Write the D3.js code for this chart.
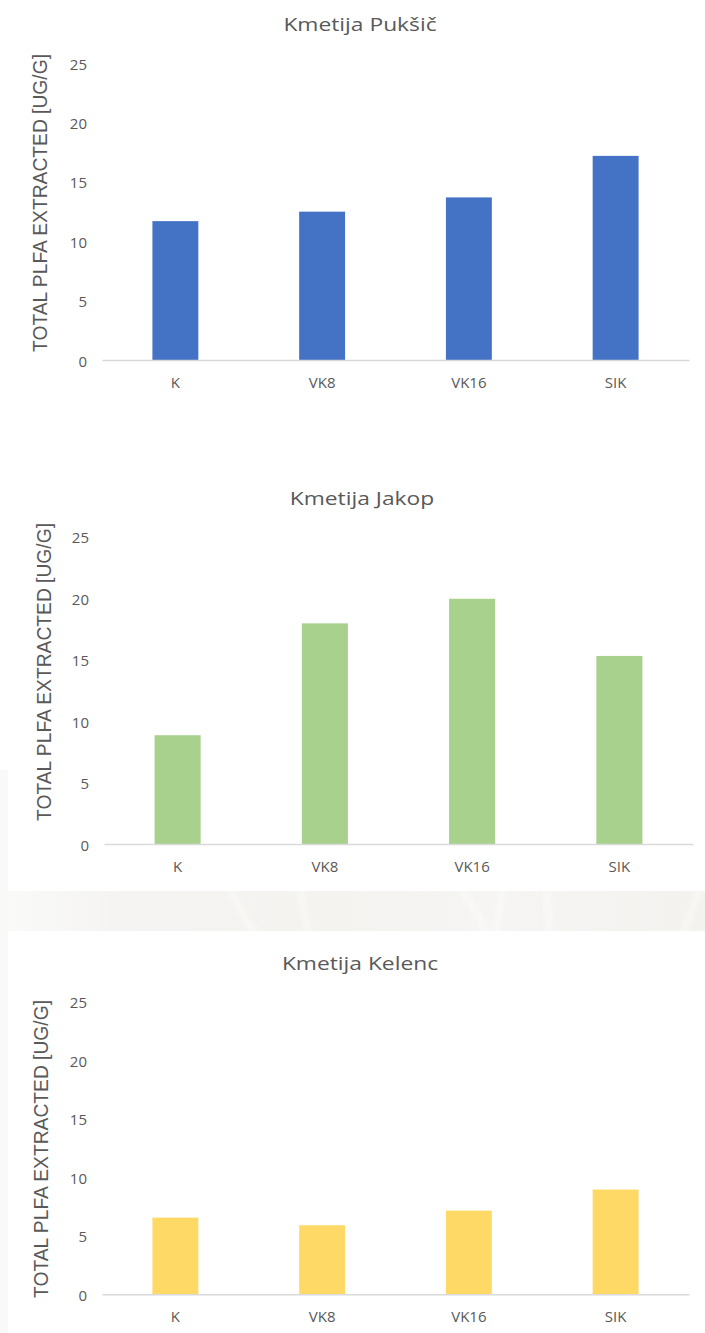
<!DOCTYPE html>
<html>
<head>
<meta charset="utf-8">
<script src="https://cdn.jsdelivr.net/npm/d3@7"></script>
<style>
  html, body { margin: 0; padding: 0; background: #ffffff; }
  svg { display: block; }
</style>
</head>
<body>
<svg id="chart" width="705" height="1333"></svg>
<script>
// ---- data ----
const categories = ["K", "VK8", "VK16", "SIK"];
const farmTitles = ["Kmetija Pukšič", "Kmetija Jakop", "Kmetija Kelenc"];
const valuesPuksic = [11.7, 12.5, 13.7, 17.2];
const valuesJakop = [8.85, 17.95, 19.95, 15.3];
const valuesKelenc = [6.55, 5.9, 7.15, 8.95];
const yTickValues = [0, 5, 10, 15, 20, 25];
const yAxisTitle = "TOTAL PLFA EXTRACTED [UG/G]";

// ---- styling / layout ----
const seriesColors = ["#4472C4", "#A9D18E", "#FFD966"];
const textColor = "#595959";
const axisColor = "#D9D9D9";
const panelLayout = [
  { titleX: 360, titleY: 31,  top: 63.3,   bottom: 360,    left: 102, right: 689, axisTitleX: 47, axisTitleCY: 203 },
  { titleX: 362, titleY: 505, top: 536.7,  bottom: 844,    left: 104, right: 693, axisTitleX: 51, axisTitleCY: 672 },
  { titleX: 360, titleY: 970, top: 1001.7, bottom: 1294.3, left: 102, right: 689, axisTitleX: 48, axisTitleCY: 1149 }
];
const seriesValues = [valuesPuksic, valuesJakop, valuesKelenc];
const sansFont = "'Open Sans', Lato, sans-serif";

const svg = d3.select("#chart");
const defs = svg.append("defs");

// soft backdrop strip between the second and third chart
defs.append("filter").attr("id", "soft").attr("x", "-20%").attr("y", "-20%").attr("width", "140%").attr("height", "140%")
  .append("feGaussianBlur").attr("stdDeviation", 3);
const grad = defs.append("linearGradient").attr("id", "stripGrad").attr("x1", 0).attr("x2", 1).attr("y1", 0).attr("y2", 0);
[[0, "#fafaf9"], [0.15, "#f5f4f2"], [0.45, "#f4f3f0"], [0.7, "#f6f5f3"], [1, "#f3f2ef"]]
  .forEach(([o, c]) => grad.append("stop").attr("offset", o).attr("stop-color", c));

svg.append("rect").attr("x", 0).attr("y", 770).attr("width", 8).attr("height", 563).attr("fill", "#f9f9f8");
const strip = svg.append("g");
strip.append("rect").attr("x", 8).attr("y", 891).attr("width", 697).attr("height", 40).attr("fill", "url(#stripGrad)");
const clip = defs.append("clipPath").attr("id", "stripClip");
clip.append("rect").attr("x", 8).attr("y", 891).attr("width", 697).attr("height", 40);
const streaks = strip.append("g").attr("clip-path", "url(#stripClip)").attr("filter", "url(#soft)");
[
  "M225,880 C235,900 245,920 262,945",
  "M300,880 C300,900 305,920 312,945",
  "M455,880 C470,900 480,915 490,945",
  "M505,880 C500,900 498,920 495,945",
  "M548,880 C546,900 548,920 552,945",
  "M705,880 C695,900 688,920 680,945"
].forEach(d => streaks.append("path").attr("d", d).attr("fill", "none")
  .attr("stroke", "#ffffff").attr("stroke-width", 5).attr("opacity", 0.6));

// ---- panels ----
panelLayout.forEach((p, i) => {
  const g = svg.append("g");
  const values = seriesValues[i];

  const x = d3.scaleBand().domain(categories).range([p.left, p.right])
    .paddingInner(0.687).paddingOuter(0.3435);
  const y = d3.scaleLinear().domain([0, 25]).range([p.bottom, p.top]);

  // chart title, lettering drawn a little wide
  g.append("text")
    .attr("transform", `translate(${p.titleX},${p.titleY}) scale(1.2,1)`)
    .attr("font-family", sansFont)
    .attr("font-size", 19)
    .attr("fill", textColor)
    .attr("text-anchor", "middle")
    .text(farmTitles[i]);

  // bars
  g.append("g").selectAll("rect").data(categories).join("rect")
    .attr("x", d => x(d))
    .attr("width", x.bandwidth())
    .attr("y", (d, k) => y(values[k]))
    .attr("height", (d, k) => y(0) - y(values[k]))
    .attr("fill", seriesColors[i]);

  // value axis labels
  const yAxis = g.append("g").attr("transform", `translate(${p.left + 1},0)`)
    .call(d3.axisLeft(y).tickValues(yTickValues).tickSize(0).tickPadding(16));
  yAxis.select(".domain").remove();
  yAxis.selectAll("text")
    .attr("font-family", sansFont)
    .attr("font-size", 15)
    .attr("fill", textColor)
    .attr("dy", "0.4em");

  // category axis
  const xAxis = g.append("g").attr("transform", `translate(0,${p.bottom})`)
    .call(d3.axisBottom(x).tickSize(0).tickSizeOuter(0).tickPadding(17));
  xAxis.select(".domain").attr("stroke", axisColor).attr("stroke-width", 1.4);
  xAxis.selectAll("text")
    .attr("font-family", sansFont)
    .attr("font-size", 15)
    .attr("fill", textColor);

  // value axis title
  g.append("text")
    .attr("transform", `translate(${p.axisTitleX},${p.axisTitleCY}) rotate(-90)`)
    .attr("text-anchor", "middle")
    .attr("font-family", "'Liberation Sans', Arial, sans-serif")
    .attr("font-size", 21)
    .attr("textLength", 298)
    .attr("lengthAdjust", "spacingAndGlyphs")
    .attr("fill", textColor)
    .text(yAxisTitle);
});
</script>
</body>
</html>
